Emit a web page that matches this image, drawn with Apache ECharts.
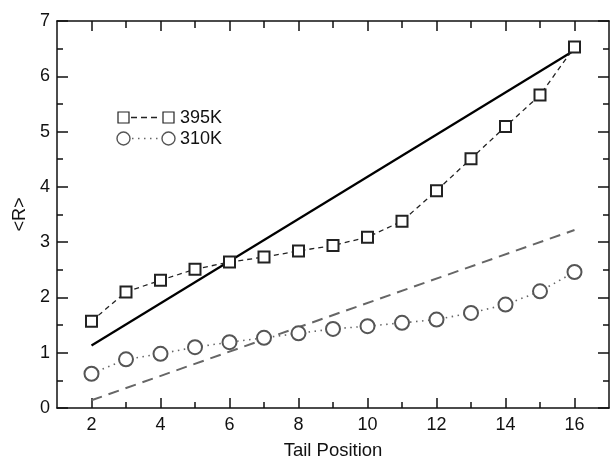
<!DOCTYPE html>
<html>
<head>
<meta charset="utf-8">
<script src="https://cdn.jsdelivr.net/npm/echarts@6/dist/echarts.min.js"></script>
<style>
  html, body { margin: 0; padding: 0; background: #fff; }
  #main { width: 610px; height: 465px; }
</style>
</head>
<body>
<div id="main"></div>
<script>
// tail positions
var positions = [2, 3, 4, 5, 6, 7, 8, 9, 10, 11, 12, 13, 14, 15, 16];
// <R> at 395K and 310K
var r395 = [1.57, 2.10, 2.31, 2.51, 2.64, 2.73, 2.84, 2.94, 3.09, 3.38, 3.93, 4.51, 5.09, 5.66, 6.53];
var r310 = [0.62, 0.88, 0.98, 1.10, 1.19, 1.27, 1.35, 1.43, 1.48, 1.54, 1.60, 1.72, 1.87, 2.11, 2.46];
// straight reference lines (end points)
var lineX = [2, 16];
var solidLine = [1.13, 6.47];
var grayDashLine = [0.14, 3.22];
var xLabels = [2, 4, 6, 8, 10, 12, 14, 16];
var xMinor = [3, 5, 7, 9, 11, 13, 15];

function pairs(xs, ys) {
    var out = [];
    for (var i = 0; i < xs.length; i++) out.push([xs[i], ys[i]]);
    return out;
}

var font = 'Liberation Sans, Arial, sans-serif';
var myChart = echarts.init(document.getElementById('main'));

var baseX = {
    type: 'value', min: 1, max: 17, interval: 1,
    splitLine: { show: false },
    axisLine: { show: false },
    axisLabel: { show: false },
    axisTick: { show: false }
};

option = {
    animation: false,
    backgroundColor: '#fff',
    grid: { left: 57, right: 1, top: 21, bottom: 56 },
    xAxis: [
        // bottom axis with labels and long ticks
        Object.assign({}, baseX, {
            position: 'bottom',
            name: 'Tail Position',
            nameLocation: 'middle',
            nameGap: 33,
            nameTextStyle: { fontFamily: font, fontSize: 18.5, color: '#111' },
            axisLine: { show: true, lineStyle: { color: '#111', width: 1.5 } },
            axisTick: { show: true, inside: true, length: 10, customValues: xLabels,
                lineStyle: { color: '#111', width: 1.5 } },
            axisLabel: { show: true, customValues: xLabels, margin: 8,
                fontFamily: font, fontSize: 18, color: '#111' }
        }),
        // bottom short ticks
        Object.assign({}, baseX, {
            position: 'bottom',
            axisTick: { show: true, inside: true, length: 6, customValues: xMinor,
                lineStyle: { color: '#111', width: 1.5 } }
        }),
        // top axis long ticks
        Object.assign({}, baseX, {
            position: 'top',
            axisLine: { show: true, lineStyle: { color: '#111', width: 1.5 } },
            axisTick: { show: true, inside: true, length: 10, customValues: xLabels,
                lineStyle: { color: '#111', width: 1.5 } }
        }),
        // top short ticks
        Object.assign({}, baseX, {
            position: 'top',
            axisTick: { show: true, inside: true, length: 7, customValues: xMinor,
                lineStyle: { color: '#111', width: 1.5 } }
        })
    ],
    yAxis: [
        {
            type: 'value', min: 0, max: 7, interval: 1, position: 'left',
            name: '<R>',
            nameLocation: 'middle',
            nameGap: 28,
            nameTextStyle: { fontFamily: font, fontSize: 18, color: '#111' },
            splitLine: { show: false },
            axisLine: { show: true, lineStyle: { color: '#111', width: 1.5 } },
            axisTick: { show: true, inside: true, length: 11, lineStyle: { color: '#111', width: 1.5 } },
            minorTick: { show: true, splitNumber: 2, length: 6, lineStyle: { color: '#111', width: 1.5 } },
            axisLabel: { margin: 7, fontFamily: font, fontSize: 18, color: '#111' }
        },
        {
            type: 'value', min: 0, max: 7, interval: 1, position: 'right',
            splitLine: { show: false },
            axisLine: { show: true, lineStyle: { color: '#111', width: 1.5 } },
            axisTick: { show: true, inside: true, length: 11, lineStyle: { color: '#111', width: 1.5 } },
            minorTick: { show: true, splitNumber: 2, length: 6, lineStyle: { color: '#111', width: 1.5 } },
            axisLabel: { show: false }
        }
    ],
    series: [
        {
            name: 'fit395', type: 'line', data: pairs(lineX, solidLine),
            symbol: 'none', silent: true,
            lineStyle: { color: '#000', width: 2.2 }, z: 2
        },
        {
            name: 'fit310', type: 'line', data: pairs(lineX, grayDashLine),
            symbol: 'none', silent: true,
            lineStyle: { color: '#666', width: 2, type: [11, 7] }, z: 2
        },
        {
            name: '395K', type: 'line', data: pairs(positions, r395),
            symbol: 'emptyRect', symbolSize: 11,
            itemStyle: { color: '#222', borderWidth: 1.2 },
            lineStyle: { color: '#222', width: 1.3, type: [5, 4] }, z: 3
        },
        {
            name: '310K', type: 'line', data: pairs(positions, r310),
            symbol: 'emptyCircle', symbolSize: 14,
            itemStyle: { color: '#555', borderWidth: 1.4 },
            lineStyle: { color: '#666', width: 1.6, type: [1.5, 4.5] }, z: 3
        }
    ],
    graphic: [
        // legend row 1: 395K
        { type: 'rect', shape: { x: 118, y: 112, width: 11, height: 11 },
          style: { fill: '#fff', stroke: '#222', lineWidth: 1.2 } },
        { type: 'line', shape: { x1: 131, y1: 117.5, x2: 161, y2: 117.5 },
          style: { stroke: '#222', lineWidth: 1.3, lineDash: [6, 4] } },
        { type: 'rect', shape: { x: 163, y: 112, width: 11, height: 11 },
          style: { fill: '#fff', stroke: '#222', lineWidth: 1.2 } },
        { type: 'text', x: 180, y: 118,
          style: { text: '395K', fontFamily: font, fontSize: 18, fill: '#111', verticalAlign: 'middle' } },
        // legend row 2: 310K
        { type: 'circle', shape: { cx: 123.5, cy: 138.5, r: 6.5 },
          style: { fill: '#fff', stroke: '#555', lineWidth: 1.4 } },
        { type: 'line', shape: { x1: 132, y1: 138.5, x2: 160, y2: 138.5 },
          style: { stroke: '#666', lineWidth: 1.5, lineDash: [1.5, 4.5] } },
        { type: 'circle', shape: { cx: 168.5, cy: 138.5, r: 6.5 },
          style: { fill: '#fff', stroke: '#555', lineWidth: 1.4 } },
        { type: 'text', x: 180, y: 139,
          style: { text: '310K', fontFamily: font, fontSize: 18, fill: '#111', verticalAlign: 'middle' } }
    ]
};

myChart.setOption(option);
</script>
</body>
</html>
